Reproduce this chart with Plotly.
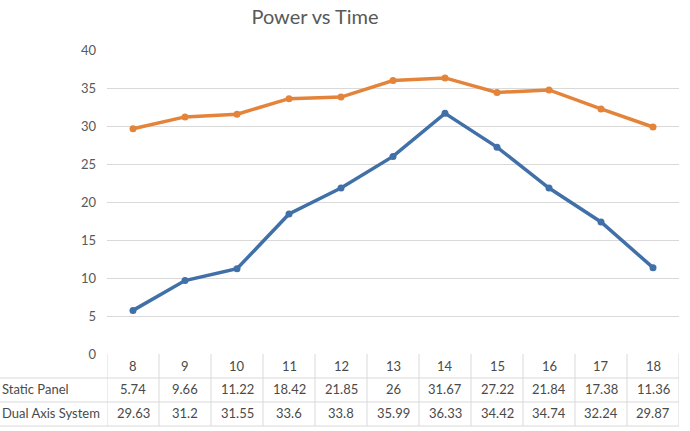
import plotly.graph_objects as go

hours = [8, 9, 10, 11, 12, 13, 14, 15, 16, 17, 18]
static_panel = [5.74, 9.66, 11.22, 18.42, 21.85, 26, 31.67, 27.22, 21.84, 17.38, 11.36]
dual_axis = [29.63, 31.2, 31.55, 33.6, 33.8, 35.99, 36.33, 34.42, 34.74, 32.24, 29.87]
static_labels = ["5.74", "9.66", "11.22", "18.42", "21.85", "26", "31.67", "27.22", "21.84", "17.38", "11.36"]
dual_labels = ["29.63", "31.2", "31.55", "33.6", "33.8", "35.99", "36.33", "34.42", "34.74", "32.24", "29.87"]
series_names = ["Static Panel", "Dual Axis System"]
y_ticks = [0, 5, 10, 15, 20, 25, 30, 35, 40]

BLUE = "#4170A8"
ORANGE = "#E4843A"
TXT = "#595959"
TBL = "#4a4a4a"
GRID = "#d9d9d9"
FONT = "Lato"

fig = go.Figure()
fig.add_trace(go.Scatter(x=hours, y=static_panel, mode="lines+markers", name=series_names[0],
                         line=dict(color=BLUE, width=3.5), marker=dict(size=7, color=BLUE)))
fig.add_trace(go.Scatter(x=hours, y=dual_axis, mode="lines+markers", name=series_names[1],
                         line=dict(color=ORANGE, width=3.5), marker=dict(size=7, color=ORANGE)))

W, H = 690, 431
mt, mb, ml, mr = 50, 77, 107, 11
ph = H - mt - mb

def py(px):
    return (H - mb - px) / ph

left_edge = -ml / (W - ml - mr)
shapes = []
annotations = []
# horizontal table lines
for px in [378, 402, 426]:
    shapes.append(dict(type="line", xref="paper", yref="paper", x0=left_edge, x1=1, y0=py(px), y1=py(px),
                       line=dict(color=GRID, width=1)))
# vertical table lines
bounds = [h - 0.5 for h in hours] + [hours[-1] + 0.5]
for b in bounds:
    shapes.append(dict(type="line", xref="x", yref="paper", x0=b, x1=b, y0=py(354), y1=py(426),
                       line=dict(color=GRID, width=1)))

for i, h in enumerate(hours):
    annotations.append(dict(x=h, y=py(366), xref="x", yref="paper", text=str(h), showarrow=False,
                            yanchor="middle", font=dict(family=FONT, size=13, color=TBL)))
    annotations.append(dict(x=h, y=py(389), xref="x", yref="paper", text=static_labels[i], showarrow=False,
                            yanchor="middle", font=dict(family=FONT, size=13, color=TBL)))
    annotations.append(dict(x=h, y=py(413), xref="x", yref="paper", text=dual_labels[i], showarrow=False,
                            yanchor="middle", font=dict(family=FONT, size=13, color=TBL)))
for name, px in zip(series_names, [389, 413]):
    annotations.append(dict(x=left_edge, y=py(px), xref="paper", yref="paper", text=name,
                            showarrow=False, xanchor="left", yanchor="middle",
                            font=dict(family=FONT, size=13, color=TBL)))

fig.update_layout(
    width=W, height=H,
    margin=dict(l=ml, r=mr, t=mt, b=mb),
    paper_bgcolor="white", plot_bgcolor="white",
    showlegend=False,
    title=dict(text="Power vs Time", x=315 / W, xanchor="center", y=1 - 17 / H, yanchor="middle",
               font=dict(family=FONT, size=20, color=TXT)),
    xaxis=dict(range=[7.5, 18.5], showticklabels=False, showgrid=False, zeroline=False,
               showline=False, ticks=""),
    yaxis=dict(range=[0, 40], tickvals=y_ticks, showgrid=True, gridcolor=GRID, gridwidth=1,
               zeroline=False, showline=False, ticks="", ticklabelstandoff=10,
               tickfont=dict(family=FONT, size=13, color=TXT)),
    shapes=shapes, annotations=annotations,
)

fig.write_html("out.html")
